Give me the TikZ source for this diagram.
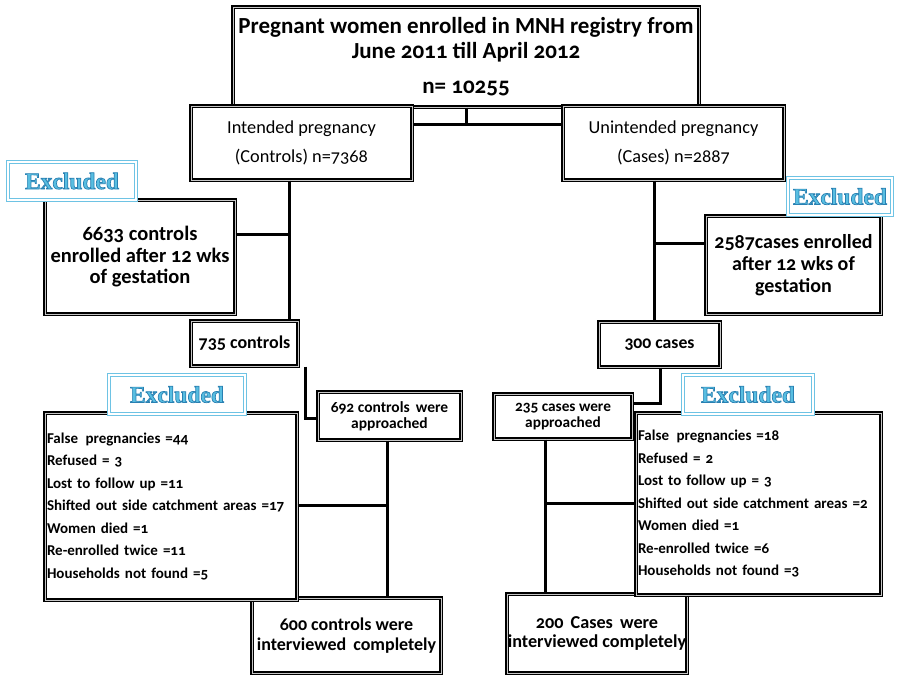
\documentclass[tikz,border=0pt]{standalone}
\usepackage{fontspec}
\setmainfont{Carlito}[Numbers=OldStyle]
\newfontfamily\exfont{Liberation Serif}
\definecolor{exblue}{RGB}{88,190,225}
\definecolor{exline}{RGB}{110,195,228}
\newcommand{\exword}[1]{\special{pdf:literal direct 0.16 0.5 0.7 RG 0.7 w 2 Tr}#1\special{pdf:literal direct 0 Tr}}
\begin{document}
\begin{tikzpicture}[x=1pt,y=-1pt,
  box/.style={draw=black, line width=1.4pt, double=gray!45, double distance=0.9pt, fill=white, inner sep=0pt, align=center},
  conn/.style={draw=black, line width=3pt},
  exl/.style={draw=exline, line width=1.2pt, double=white, double distance=1.5pt, fill=white, inner sep=0pt,
    font=\exfont\bfseries\fontsize{23.5}{23.5}\selectfont, text=exblue},
  listbox/.style={box, align=left, inner xsep=2pt, inner ysep=0pt, font=\bfseries\fontsize{15}{22.5}\selectfont}]
\useasboundingbox[fill=white] (0,0) rectangle (900,680);

% junction coordinates
\coordinate (j1) at (466,124);
\coordinate (jl1) at (289,234);
\coordinate (jl2) at (305,418);
\coordinate (jl3) at (387,505);
\coordinate (jr1) at (654,243);
\coordinate (jr2) at (660,403);
\coordinate (jr3) at (545,503);

\node[box, minimum width=466, minimum height=100, font=\bfseries\fontsize{23}{25}\selectfont] (top) at (466,57)
  {Pregnant women enrolled in MNH registry from\\June 2011 till April 2012\\[10pt]n= 10255};
\node[box, minimum width=221, minimum height=74, font=\fontsize{18.3}{29}\selectfont] (int) at (301.5,143)
  {Intended pregnancy\\(Controls) n=7368};
\node[box, minimum width=221, minimum height=74, font=\fontsize{18.3}{29}\selectfont] (unint) at (673.5,143)
  {Unintended pregnancy\\(Cases) n=2887};

\draw[conn] (top.south -| j1) -- (j1);
\draw[conn] (int.east |- j1) -- (unint.west |- j1);

\node[box, minimum width=190, minimum height=114, font=\bfseries\fontsize{20.5}{21.5}\selectfont] (b6633) at (140,257)
  {6633 controls\\enrolled after 12 wks\\of gestation};
\node[box, minimum width=107, minimum height=45, font=\bfseries\fontsize{18}{18}\selectfont] (c735) at (244.5,343.5)
  {735 controls};
\node[box, minimum width=175, minimum height=98, font=\bfseries\fontsize{20}{22}\selectfont] (b2587) at (793.5,265)
  {2587cases enrolled\\after 12 wks of\\gestation};
\node[box, minimum width=121, minimum height=45, font=\bfseries\fontsize{17.7}{17.7}\selectfont] (c300) at (659.5,344.5)
  {300 cases};
\node[box, minimum width=143, minimum height=48, font=\bfseries\fontsize{15.5}{16}\selectfont] (c692) at (389.5,416)
  {692 controls\, were\\approached};
\node[box, minimum width=138, minimum height=45, font=\bfseries\fontsize{15.3}{16}\selectfont] (c235) at (563,416.5)
  {235 cases were\\approached};
\node[box, minimum width=189, minimum height=75, font=\bfseries\fontsize{18}{20}\selectfont] (c600) at (346.5,635.5)
  {600 controls were\\interviewed\, completely};
\node[box, minimum width=180, minimum height=79, font=\bfseries\fontsize{18.2}{19}\selectfont] (c200) at (597,633.5)
  {200\, Cases\, were\\interviewed completely};

\draw[conn] (int.south -| jl1) -- (c735.north -| jl1);
\draw[conn] (b6633.east |- jl1) -- (jl1);
\draw[conn] (c735.south -| jl2) -- (jl2) -- (c692.west |- jl2);
\draw[conn] (c692.south -| jl3) -- (c600.north -| jl3);
\draw[conn] (unint.south -| jr1) -- (c300.north -| jr1);
\draw[conn] (jr1) -- (b2587.west |- jr1);
\draw[conn] (c300.south -| jr2) -- (jr2) -- (c235.east |- jr2);
\draw[conn] (c235.south -| jr3) -- (c200.north -| jr3);

\node[listbox, text width=248, minimum height=187] (listL) at (171,506.5)
  {False\, pregnancies =44\\Refused = 3\\Lost to follow up =11\\Shifted out side catchment areas =17\\Women died =1\\Re-enrolled twice =11\\Households not found =5};
\node[listbox, text width=241, minimum height=182] (listR) at (758.5,504)
  {False\, pregnancies =18\\Refused = 2\\Lost to follow up = 3\\Shifted out side catchment areas =2\\Women died =1\\Re-enrolled twice =6\\Households not found =3};

\draw[conn] (listL.east |- jl3) -- (jl3);
\draw[conn] (jr3) -- (listR.west |- jr3);

\node[exl, minimum width=128, minimum height=38] (ex1) at (72,181) {\exword{Excluded}};
\node[exl, minimum width=104, minimum height=37] (ex2) at (840,196.5) {\exword{Excluded}};
\node[exl, minimum width=136, minimum height=39] (ex3) at (177,394.5) {\exword{Excluded}};
\node[exl, minimum width=130, minimum height=39] (ex4) at (748,394.5) {\exword{Excluded}};
\end{tikzpicture}
\end{document}
